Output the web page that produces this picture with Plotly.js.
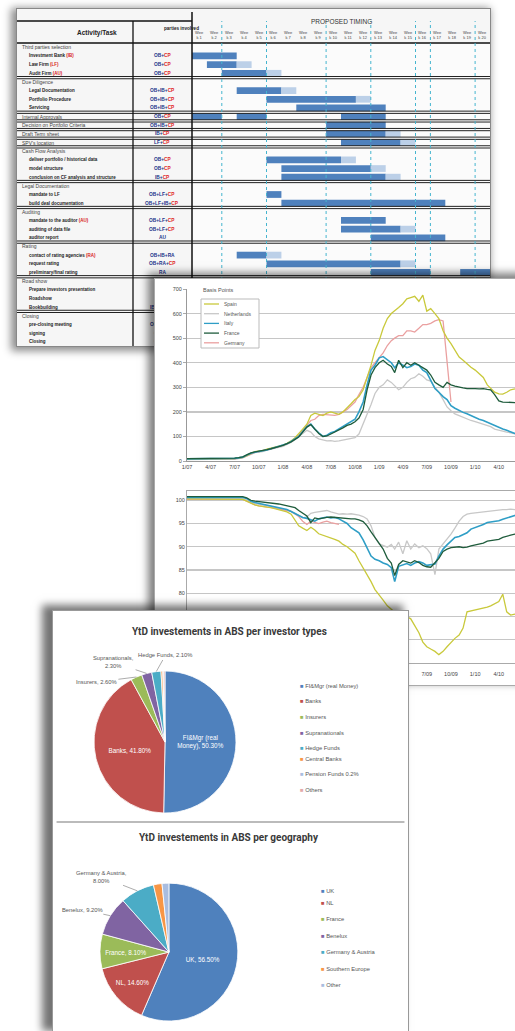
<!DOCTYPE html>
<html><head><meta charset="utf-8">
<script src="https://cdn.plot.ly/plotly-3.0.1.min.js"></script>
<style>
html,body{margin:0;padding:0;background:#fff;overflow:hidden;width:515px;height:1031px;}
.panel{position:absolute;background:#fff;}
#gantt{left:16px;top:8px;width:473px;height:337px;z-index:1;box-shadow:-3px 2px 8px 2px rgba(0,0,0,0.45);border:1px solid #888;}
#lines{left:154px;top:278px;width:400px;height:406px;z-index:2;box-shadow:-5px -4px 8px 1px rgba(0,0,0,0.5);border:1px solid #aaa;}
#pies{left:52px;top:610px;width:355px;height:420px;z-index:3;box-shadow:-8px -3px 8px 2px rgba(0,0,0,0.55);border:1px solid #999;}
</style></head>
<body>
<div id="gantt" class="panel"></div>
<div id="lines" class="panel"></div>
<div id="pies" class="panel"></div>
<script>
// ================= DATA =================
// --- Gantt table ---
const activities = ['Third parties selection','Investment Bank (IB)','Law Firm (LF)','Audit Firm (AU)','Due Diligence','Legal Documentation','Portfolio Procedure','Servicing','Internal Approvals','Decision on Portfolio Criteria','Draft Term sheet',"SPV's location",'Cash Flow Analysis','deliver portfolio / historical data','model structure','conclusion on CF analysis and structure','Legal Documentation','mandate to LF','build deal documentation','Auditing','mandate to the auditor (AU)','auditing of data file','auditor report','Rating','contact of rating agencies (RA)','request rating','preliminary/final rating','Road show','Prepare investors presentation','Roadshow','Bookbuilding','Closing','pre-closing meeting','signing','Closing'];
const activityLevel = [0,1,1,1,0,1,1,1,0,0,0,0,0,1,1,1,0,1,1,0,1,1,1,0,1,1,1,0,1,1,1,0,1,1,1];
const parties = ['','OB+CP','OB+CP','OB+CP','','OB+IB+CP','OB+IB+CP','OB+IB+CP','OB+CP','OB+IB+CP','IB+CP','LF+CP','','OB+CP','OB+CP','IB+CP','','OB+LF+CP','OB+LF+IB+CP','','OB+LF+CP','OB+LF+CP','AU','','OB+IB+RA','OB+RA+CP','RA','','IB+OB','IB+OB','IB+OB+CP','','OB+IB+CP','OB+CP','OB+CP'];
const separatorsAfter = [3,7,8,9,10,11,15,18,22,26,30];
const milestoneWeeks = [2,5,9,12,15,16,19];
const weekLabels = ['Week 1','Week 2','Week 3','Week 4','Week 5','Week 6','Week 7','Week 8','Week 9','Week 10','Week 11','Week 12','Week 13','Week 14','Week 15','Week 16','Week 17','Week 18','Week 19','Week 20'];
const darkRow   = [1,2,3,5,6,7,8,8,8,9,10,11,13,14,15,17,18,20,21,22,24,25,26,26,28,29,30,32,33,34];
const darkStart = [0,1,2,3,5,7,0,3,10,9,9,10,5,6,6,5,6,10,10,12,3,5,12,18,13,15,16,17,18,19];
const darkLen   = [3,2,3,3,6,6,2,2,3,4,4,4,5,6,7,1,11,3,4,5,2,9,4,2,3,2,3,1,1,1];
const lightRow   = [2,3,5,6,10,11,13,14,15,21,24,25];
const lightStart = [3,5,6,11,13,14,10,12,13,14,5,14];
const lightLen   = [1,1,1,1,1,1,1,1,1,1,1,1];

// --- Spread charts (semi-monthly) ---
const dates = ['2007-01-01','2007-01-16','2007-02-01','2007-02-16','2007-03-01','2007-03-16','2007-04-01','2007-04-16','2007-05-01','2007-05-16','2007-06-01','2007-06-16','2007-07-01','2007-07-16','2007-08-01','2007-08-16','2007-09-01','2007-09-16','2007-10-01','2007-10-16','2007-11-01','2007-11-16','2007-12-01','2007-12-16',
'2008-01-01','2008-01-16','2008-02-01','2008-02-16','2008-03-01','2008-03-16','2008-04-01','2008-04-16','2008-05-01','2008-05-16','2008-06-01','2008-06-16','2008-07-01','2008-07-16','2008-08-01','2008-08-16','2008-09-01','2008-09-16','2008-10-01','2008-10-16','2008-11-01','2008-11-16','2008-12-01','2008-12-16',
'2009-01-01','2009-01-16','2009-02-01','2009-02-16','2009-03-01','2009-03-16','2009-04-01','2009-04-16','2009-05-01','2009-05-16','2009-06-01','2009-06-16','2009-07-01','2009-07-16','2009-08-01','2009-08-16','2009-09-01','2009-09-16','2009-10-01','2009-10-16','2009-11-01','2009-11-16','2009-12-01','2009-12-16',
'2010-01-01','2010-01-16','2010-02-01','2010-02-16','2010-03-01','2010-03-16','2010-04-01','2010-04-16','2010-05-01','2010-05-16','2010-06-01','2010-06-16','2010-07-01','2010-07-16','2010-08-01','2010-08-16'];
const lineNames = ['Spain','Netherlands','Italy','France','Germany'];
const tickDates = ['2007-01-01','2007-04-01','2007-07-01','2007-10-01','2008-01-01','2008-04-01','2008-07-01','2008-10-01','2009-01-01','2009-04-01','2009-07-01','2009-10-01','2010-01-01','2010-04-01'];
const tickText = ['1/07','4/07','7/07','10/07','1/08','4/08','7/08','10/08','1/09','4/09','7/09','10/09','1/10','4/10'];

const spainBp = [8,8,9,8,8,9,8,8,9,8,8,9,10,12,15,22,32,38,40,42,48,52,58,60,
65,72,82,95,110,130,150,185,195,190,185,195,200,195,190,200,215,233,250,262,290,340,390,450,
490,540,580,600,610,625,640,660,665,670,650,675,610,620,600,580,530,500,478,450,423,410,395,382,
370,355,340,310,295,280,273,272,280,290,294,300,295,292,298,295];
const nlBp = [6,6,7,6,6,7,6,6,7,6,6,7,8,10,13,20,28,34,36,38,44,48,54,56,
60,68,76,88,100,115,125,118,100,90,85,82,83,80,82,85,90,92,95,110,150,190,230,275,
300,310,330,320,305,290,300,320,335,340,355,345,330,325,300,280,250,220,205,192,185,178,170,165,
160,155,150,145,140,130,125,122,118,115,110,108,105,104,102,100];
const itBp = [9,9,10,9,9,10,9,9,10,9,9,10,11,13,16,24,32,36,38,40,45,50,55,58,
65,70,80,90,100,120,140,150,130,115,100,105,115,120,130,140,150,160,170,200,240,310,370,390,
420,425,410,400,380,400,390,380,385,395,390,370,360,330,295,280,262,250,225,215,205,198,192,185,
175,170,165,158,150,142,135,130,125,118,112,110,108,105,104,102];
const frBp = [10,10,11,10,10,11,10,10,11,10,10,11,12,14,17,25,33,37,39,41,46,50,56,59,
64,70,78,88,98,118,138,148,128,112,100,102,110,118,125,135,145,150,160,175,210,290,350,380,
400,410,395,385,360,410,380,400,390,400,390,380,370,350,320,310,300,320,310,305,300,298,295,296,
295,294,295,292,290,270,245,240,240,238,238,236,235,236,235,234];
const deBp = [7,7,8,7,7,8,7,7,8,7,7,8,9,11,14,21,30,35,37,40,46,50,55,58,
63,70,80,92,105,125,145,165,170,185,190,188,185,186,190,200,210,225,240,270,300,340,380,400,
420,440,470,490,500,510,510,530,530,525,540,555,555,560,570,575,570,390,240,null,null,null,null,null,
null,null,null,null,null,null,null,null,null,null,null,null,null,null,null,null];

const spainIdx = [100.3,100.3,100.3,100.3,100.3,100.3,100.3,100.3,100.3,100.3,100.3,100.3,100.3,100.3,100.2,99.8,99.3,99,98.8,98.6,98.5,98.4,98.2,98,
97.8,97.5,97,95.8,94.5,94,93.5,94.2,93.6,92.8,92.5,92.3,92,91.6,91.2,90.5,90,89.3,88.6,87,85.5,84,82.5,80.8,
79.5,78.5,77.3,76.5,75.9,75.5,75.2,75,74.5,73,71.5,69.5,68.5,68,67.5,66.8,67.5,68.5,69.5,70.3,71,72.5,76,76.2,
76.3,76.5,76.8,77,77.3,77.8,78.2,79.8,76,75.3,75.5,76,75.8,76,76.2,76];
const nlIdx = [100.3,100.3,100.3,100.3,100.3,100.3,100.3,100.3,100.3,100.3,100.3,100.3,100.3,100.3,100.3,100.1,99.6,99.3,99.1,99,98.9,98.7,98.5,98.3,
98.1,97.9,97.6,97.2,96.8,96.2,96.4,97.2,97.4,97.5,97.7,97.8,97.5,97.2,97,97.1,97,97.1,97,96.8,96.5,96,94.5,92,
90.6,90.2,89.9,90.5,89.5,91,88.5,91.3,89.5,90.6,89.8,90.2,89.6,88.5,84,89.5,90.6,91.5,92.7,94,95.5,96.5,97,97.2,
97.3,97.5,97.6,97.7,97.8,97.8,97.9,98,98,98.1,98,98.1,98.2,98.1,98.2,98.2];
const itIdx = [100.6,100.6,100.6,100.6,100.6,100.6,100.6,100.6,100.6,100.6,100.6,100.6,100.6,100.6,100.6,100.4,99.8,99.5,99.3,99.1,99,98.8,98.6,98.4,
98.2,98,97.6,97.2,96.8,96.3,96.1,95.8,95.5,96,96.2,96.4,96.2,96.3,96,95.6,95,94.1,93.6,93,91.5,89.8,88,87.3,
87,86.5,86.2,85.5,82.5,85.8,86.2,86.4,86,86.5,86.8,86.5,86,86.2,86.3,88,89.5,90.4,91.2,92,92.2,92.6,93,93.8,
94.1,94.5,94.8,95.2,95.3,95.5,95.6,95.9,96.2,96.5,96.8,97,97.2,97.3,97.4,97.5];
const frIdx = [100.8,100.8,100.8,100.8,100.8,100.8,100.8,100.8,100.8,100.8,100.8,100.8,100.8,100.8,100.8,100.5,100,99.8,99.7,99.6,99.6,99.5,99.4,99.2,
99,98.8,98.6,98.4,97.8,97.2,96.6,95.2,96.2,96,96.2,96.3,96.4,96.3,96.2,96.1,96,96,96,95.8,95.4,94.5,93.2,92,
90.8,89.5,87.5,86.5,83.8,86.2,87,86.8,86.5,87,86.6,86,85.7,85.6,86.5,87.5,89,89.5,89.8,89.9,90,89.8,89.9,90.2,
90.4,90.6,90.8,91.2,91.3,91.5,91.6,92,92.3,92.5,92.7,92.8,93,93,93.1,93.2];
const deIdx = [100.2,100.2,100.2,100.2,100.2,100.2,100.2,100.2,100.2,100.2,100.2,100.2,100.2,100.2,100.2,99.8,99.3,99,98.8,98.7,98.5,98.4,98.3,98.1,
98,97.8,97.6,97,96.5,95.5,94.8,95.5,95.2,95,95.3,95.5,95.2,95,94.8,null,null,null,null,null,null,null,null,null,
null,null,null,null,null,null,null,null,null,null,null,null,null,null,null,null,null,null,null,null,null,null,null,null,
null,null,null,null,null,null,null,null,null,null,null,null,null,null,null,null];

// --- Pies ---
const investorLabels = ['FI&Mgr (real Money)','Banks','Insurers','Supranationals','Hedge Funds','Central Banks','Pension Funds 0.2%','Others'];
const investorValues = [50.30,41.80,2.60,2.30,2.10,0.40,0.20,0.30];
const geoLabels = ['UK','NL','France','Benelux','Germany & Austria','Southern Europe','Other'];
const geoValues = [56.50,14.60,8.10,9.20,8.00,2.00,1.60];

// ================= STYLE =================
const F = 'Liberation Sans, Arial, sans-serif';
const cfg = {staticPlot:true, displayModeBar:false};

// ================= GANTT =================
(function(){
  const W=473,H=337,L=175,T=34;
  const pw=W-L, ph=H-T;
  const px = v => (v-191)/pw;
  const py = v => 1+(T-(v-8))/ph;
  const shapes=[], ann=[];
  const xL = px(16), xC = px(132);
  separatorsAfter.forEach(r=>{
    [r+0.5-0.13, r+0.5+0.13].forEach(y=>shapes.push({type:'line',xref:'paper',yref:'y',x0:xL,x1:1,y0:y,y1:y,line:{color:'#222',width:1}}));
  });
  shapes.push({type:'line',xref:'paper',yref:'paper',x0:xL,x1:1,y0:1,y1:1,line:{color:'#111',width:1.6}});
  shapes.push({type:'line',xref:'paper',yref:'paper',x0:xL,x1:0,y0:py(20),y1:py(20),line:{color:'#111',width:1.4}});
  shapes.push({type:'line',xref:'paper',yref:'paper',x0:xC,x1:xC,y0:0,y1:py(20),line:{color:'#111',width:1.3}});
  shapes.push({type:'line',xref:'paper',yref:'paper',x0:0,x1:0,y0:0,y1:py(11),line:{color:'#111',width:1.5}});
  milestoneWeeks.forEach(w=>shapes.push({type:'line',xref:'x',yref:'paper',x0:w,x1:w,y0:0,y1:py(20),line:{color:'#45b5cf',width:1,dash:'dot'}}));
  activities.forEach((a,i)=>{
    const t = a.replace(/\((IB|LF|AU|RA)\)/,'<span style="color:#d62020">($1)</span>');
    ann.push({xref:'paper',yref:'y',x:activityLevel[i]?px(26):px(19),y:i,xanchor:'left',yanchor:'middle',showarrow:false,
      text: activityLevel[i]?'<b>'+t+'</b>':t, font:{family:F,size:activityLevel[i]?4.5:5,color:activityLevel[i]?'#222':'#444'}});
    if(parties[i]){
      const p = parties[i].split('+').map(s=>s==='CP'?'<span style="color:#e02525">CP</span>':'<span style="color:#22348a">'+s+'</span>').join('<span style="color:#22348a">+</span>');
      ann.push({xref:'paper',yref:'y',x:px(161),y:i,xanchor:'center',yanchor:'middle',showarrow:false,text:'<b>'+p+'</b>',font:{family:F,size:4.8}});
    }
  });
  ann.push({xref:'paper',yref:'paper',x:px(74),y:py(26),showarrow:false,text:'<b>Activity/Task</b>',font:{family:F,size:6.5,color:'#222'}});
  ann.push({xref:'paper',yref:'paper',x:px(161),y:py(23),showarrow:false,text:'<b>parties involved</b>',font:{family:F,size:4.6,color:'#222'}});
  ann.push({xref:'paper',yref:'paper',x:0.5,y:py(15),showarrow:false,text:'PROPOSED TIMING',font:{family:F,size:6.5,color:'#333'}});
  weekLabels.forEach((w,k)=>ann.push({xref:'x',yref:'paper',x:k+0.5,y:py(27),showarrow:false,text:w.replace('Wee','Wee<br>'),font:{family:F,size:4,color:'#444'}}));
  const traces=[
    {type:'bar',orientation:'h',y:darkRow,x:darkLen,base:darkStart,width:0.78,marker:{color:'#4f81bd'},hoverinfo:'none'},
    {type:'bar',orientation:'h',y:lightRow,x:lightLen,base:lightStart,width:0.78,marker:{color:'#bcd0e8'},hoverinfo:'none'}
  ];
  Plotly.newPlot('gantt',traces,{width:W,height:H,margin:{l:L,r:0,t:T,b:0},showlegend:false,barmode:'overlay',
    paper_bgcolor:'#f6f6f6',plot_bgcolor:'#fbfbfb',
    xaxis:{range:[0,20],visible:false,fixedrange:true},yaxis:{range:[34.5,-0.5],visible:false},
    shapes:shapes,annotations:ann},cfg);
})();

// ================= LINE CHARTS =================
(function(){
  const W=400,H=406,L=32,R=12,T=10,B=22;
  const pw=W-L-R, ph=H-T-B;
  const px = v => (v-186)/pw;
  const py = v => (662-v)/ph;
  const colors = ['#c9c93b','#c8c8c8','#2f9ec6','#1f5c3c','#eaa0a0'];
  const topData = [spainBp,nlBp,itBp,frBp,deBp];
  const botData = [spainIdx,nlIdx,itIdx,frIdx,deIdx];
  const order=[1,4,0,2,3];
  const traces=[];
  order.forEach(i=>traces.push({type:'scatter',mode:'lines',x:dates,y:topData[i],name:lineNames[i],xaxis:'x',yaxis:'y',line:{color:colors[i],width:i===2?1.6:1.3},connectgaps:false}));
  order.forEach(i=>traces.push({type:'scatter',mode:'lines',x:dates,y:botData[i],name:lineNames[i],xaxis:'x2',yaxis:'y2',line:{color:colors[i],width:i===2?1.6:1.3},connectgaps:false}));
  const xr=['2007-01-01','2010-09-16'];
  const tf={family:F,size:5.5,color:'#444'};
  const shapes=[{type:'rect',xref:'paper',yref:'paper',x0:px(200),x1:px(258),y0:py(347),y1:py(298),line:{color:'#bbb',width:1},fillcolor:'#fff'}];
  const ann=[{xref:'paper',yref:'paper',x:px(200),y:py(289),xanchor:'left',yanchor:'middle',showarrow:false,text:'Basis Points',font:{family:F,size:5.5,color:'#555'},bgcolor:'#fff'}];
  lineNames.forEach((n,i)=>{
    const yy=py(303+i*9.7);
    shapes.push({type:'line',xref:'paper',yref:'paper',x0:px(203),x1:px(218),y0:yy,y1:yy,line:{color:colors[i],width:1.3}});
    ann.push({xref:'paper',yref:'paper',x:px(221),y:yy,xanchor:'left',yanchor:'middle',showarrow:false,text:n,font:{family:F,size:5,color:'#555'}});
  });
  Plotly.newPlot('lines',traces,{width:W,height:H,margin:{l:L,r:R,t:T,b:B},showlegend:false,
    paper_bgcolor:'#fff',plot_bgcolor:'#fff',
    xaxis:{domain:[0,1],anchor:'y',type:'date',range:xr,tickvals:tickDates,ticktext:tickText,tickfont:tf,showgrid:false,showline:true,linecolor:'#999',ticks:'',zeroline:false},
    yaxis:{domain:[0.54,1],range:[0,700],dtick:100,tickfont:tf,gridcolor:'#c6c6c6',gridwidth:1.3,showline:true,linecolor:'#999',ticks:'outside',ticklen:3,tickcolor:'#aaa',zeroline:false},
    xaxis2:{domain:[0,1],anchor:'y2',type:'date',range:xr,tickvals:tickDates,ticktext:tickText,tickfont:tf,showgrid:false,showline:true,mirror:true,linecolor:'#aaa',ticks:'outside',ticklen:5,tickcolor:'rgba(0,0,0,0)',zeroline:false},
    yaxis2:{domain:[0,0.46],range:[65,102],tickvals:[65,70,75,80,85,90,95,100],tickfont:tf,gridcolor:'#c6c6c6',gridwidth:1.3,showline:true,mirror:true,linecolor:'#aaa',ticks:'',zeroline:false},
    shapes:shapes,annotations:ann},cfg);
})();

// ================= PIES =================
(function(){
  const W=355,H=420;
  const xp = v => v/W, yp = v => 1-v/H;
  const invColors=['#4f81bd','#c0504d','#9bbb59','#8064a2','#4bacc6','#f79646','#a9bde0','#e3a9a8'];
  const geoColors=['#4f81bd','#c0504d','#9bbb59','#8064a2','#4bacc6','#f79646','#a9bde0'];
  const invText = investorLabels.map((l,i)=> i<2 ? (i===0? l.replace('(real ','(real<br>') : l)+', '+investorValues[i].toFixed(2)+'%' : '');
  const invPos = investorLabels.map((l,i)=> i<2?'inside':'none');
  const geoText = geoLabels.map((l,i)=> i<3 ? l+', '+geoValues[i].toFixed(2)+'%' : '');
  const geoPos = geoLabels.map((l,i)=> i<3?'inside':'none');
  const traces=[
    {type:'pie',labels:investorLabels,values:investorValues,sort:false,direction:'clockwise',rotation:0,
     domain:{x:[0.1155,0.5155],y:[0.519,0.857]},marker:{colors:invColors,line:{color:'#fff',width:0.8}},
     text:invText,textinfo:'text',textposition:invPos,insidetextorientation:'horizontal',
     insidetextfont:{family:F,size:6.3,color:'#fff'},hoverinfo:'none',showlegend:false},
    {type:'pie',labels:geoLabels,values:geoValues,sort:false,direction:'clockwise',rotation:0,
     domain:{x:[0.132,0.521],y:[0.0238,0.352]},marker:{colors:geoColors,line:{color:'#fff',width:0.8}},
     text:geoText,textinfo:'text',textposition:geoPos,insidetextorientation:'horizontal',
     insidetextfont:{family:F,size:6.3,color:'#fff'},hoverinfo:'none',showlegend:false}
  ];
  const tf={family:'Roboto, sans-serif',size:10,color:'#3a3a3a'};
  const lf={family:F,size:5.8,color:'#555'};
  const ann=[
    {xref:'paper',yref:'paper',x:xp(176),y:yp(13),showarrow:false,text:'<b>YtD investements in ABS per investor types</b>',font:tf},
    {xref:'paper',yref:'paper',x:xp(176),y:yp(226),showarrow:false,text:'<b>YtD investements in ABS per geography</b>',font:tf}
  ];
  investorLabels.forEach((l,i)=>ann.push({xref:'paper',yref:'paper',x:xp(245),y:yp(70+i*15.5),xanchor:'left',showarrow:false,
    text:'<span style="color:'+invColors[i]+'">■</span> '+l,font:lf}));
  geoLabels.forEach((l,i)=>ann.push({xref:'paper',yref:'paper',x:xp(266),y:yp(280+i*16.5),xanchor:'left',showarrow:false,
    text:'<span style="color:'+geoColors[i]+'">■</span> '+l,font:lf}));
  const ol={family:F,size:5.8,color:'#555'};
  const arrow={showarrow:true,arrowhead:0,arrowwidth:0.7,arrowcolor:'#888',standoff:0};
  ann.push(Object.assign({xref:'paper',yref:'paper',x:xp(93.6),y:yp(62.4),ax:-33,ay:-11,text:investorLabels[3]+',<br>'+investorValues[3].toFixed(2)+'%',font:ol},arrow));
  ann.push(Object.assign({xref:'paper',yref:'paper',x:xp(83.4),y:yp(66),ax:-40,ay:5,text:investorLabels[2]+', '+investorValues[2].toFixed(2)+'%',font:ol},arrow));
  ann.push(Object.assign({xref:'paper',yref:'paper',x:xp(103.3),y:yp(60.5),ax:9,ay:-16,text:investorLabels[4]+', '+investorValues[4].toFixed(2)+'%',font:ol},arrow));
  ann.push(Object.assign({xref:'paper',yref:'paper',x:xp(57.3),y:yp(304.7),ax:-28,ay:-6,text:geoLabels[3]+', '+geoValues[3].toFixed(2)+'%',font:ol},arrow));
  ann.push(Object.assign({xref:'paper',yref:'paper',x:xp(84.2),y:yp(279.8),ax:-36,ay:-14,text:geoLabels[4]+',<br>'+geoValues[4].toFixed(2)+'%',font:ol},arrow));
  const shapes=[{type:'line',xref:'paper',yref:'paper',x0:0.01,x1:0.99,y0:yp(211),y1:yp(211),line:{color:'#bbb',width:2}}];
  Plotly.newPlot('pies',traces,{width:W,height:H,margin:{l:0,r:0,t:0,b:0},paper_bgcolor:'#fff',annotations:ann,shapes:shapes},cfg);
})();
</script>
</body></html>
